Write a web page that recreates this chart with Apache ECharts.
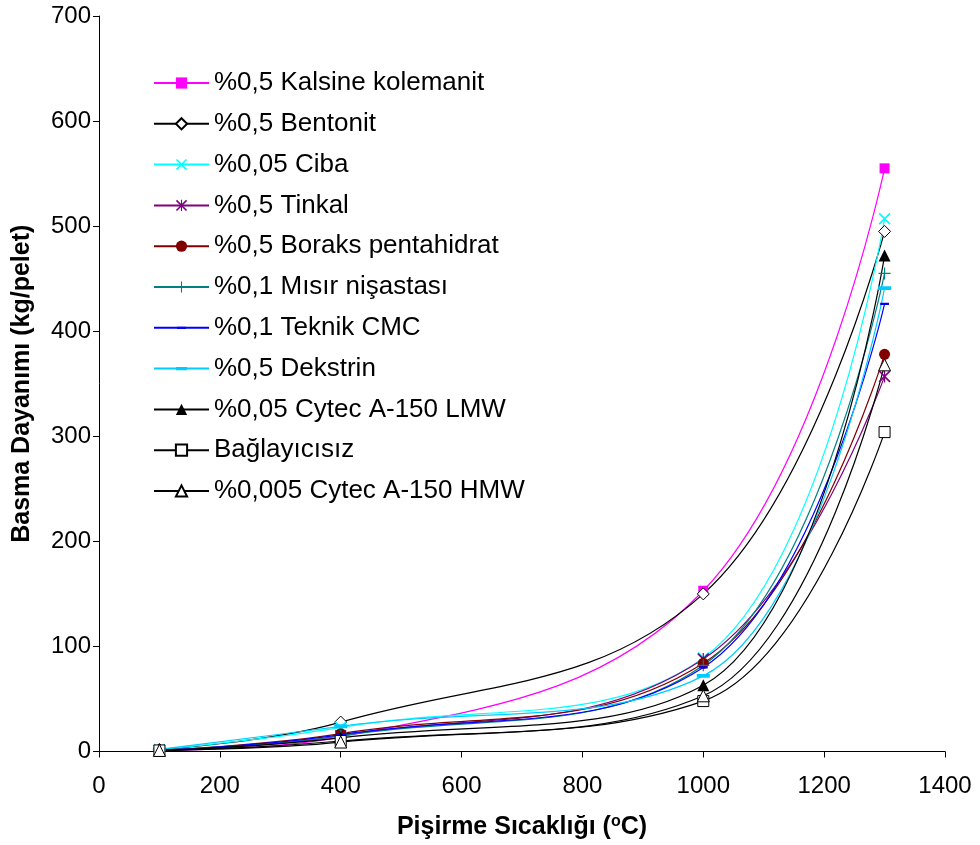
<!DOCTYPE html>
<html>
<head>
<meta charset="utf-8">
<script src="https://cdn.jsdelivr.net/npm/echarts@6/dist/echarts.min.js"></script>
<style>
  html, body { margin: 0; padding: 0; background: #fff; }
  #chart { width: 980px; height: 845px; }
</style>
</head>
<body>
<div id="chart"></div>
<script>
// temperatures (°C)
const temps = [100, 400, 1000, 1300];

// strength values (kg/pelet) per binder
const kalsine = [1, 14, 153, 555];
const bentonit = [2, 28, 150, 495];
const ciba = [2, 23, 89, 507];
const tinkal = [1, 15, 88, 357];
const boraks = [1, 17, 84, 378];
const misir = [2, 15, 82, 455];
const cmc = [1, 16, 80, 426];
const dekstrin = [2, 24, 72, 441];
const lmw = [1, 13, 63, 472];
const baglayicisiz = [1, 10, 48, 304];
const hmw = [1, 9, 53, 368];

const xTicks = [0, 200, 400, 600, 800, 1000, 1200, 1400];
const yTicks = [0, 100, 200, 300, 400, 500, 600, 700];

const FONT = '"Liberation Sans", Arial, sans-serif';

const crossPath = 'path://M0,1L1,0L10,9L9,10ZM9,0L10,1L1,10L0,9Z';
const starPath = 'path://M0,1L1,0L10,9L9,10ZM9,0L10,1L1,10L0,9ZM4.5,0L5.5,0L5.5,10L4.5,10Z';
const plusPath = 'path://M4.5,0L5.5,0L5.5,10L4.5,10ZM0,4.5L10,4.5L10,5.5L0,5.5Z';
// short dashes, padded with tiny corner dots so the box stays square
const thinDash = 'path://M0,0L0.01,0L0.01,0.01ZM1,4L9,4L9,6L1,6ZM9.99,9.99L10,9.99L10,10Z';
const wideDash = 'path://M0,0L0.01,0L0.01,0.01ZM0,3.5L10,3.5L10,6.5L0,6.5ZM9.99,9.99L10,9.99L10,10Z';

function pairs(vals) {
    return temps.map((t, i) => [t, vals[i]]);
}

function makeSeries(name, vals, color, symbol, size, fill) {
    return {
        name: name,
        type: 'line',
        smooth: 0.4,
        data: pairs(vals),
        symbol: symbol,
        symbolSize: size,
        showAllSymbol: true,
        lineStyle: { color: color, width: 1.2 },
        itemStyle: {
            color: fill || color,
            borderColor: color,
            borderWidth: fill ? 1 : 0
        },
        emphasis: { disabled: true }
    };
}

const series = [
    makeSeries('%0,5 Kalsine kolemanit', kalsine, '#FF00FF', 'rect', 10),
    makeSeries('%0,5 Bentonit', bentonit, '#000000', 'diamond', 12, '#ffffff'),
    makeSeries('%0,05 Ciba', ciba, '#00FFFF', crossPath, 12),
    makeSeries('%0,5 Tinkal', tinkal, '#800080', starPath, 12),
    makeSeries('%0,5 Boraks pentahidrat', boraks, '#800000', 'circle', 11),
    makeSeries('%0,1 Mısır nişastası', misir, '#008080', plusPath, 12),
    makeSeries('%0,1 Teknik CMC', cmc, '#0000FF', thinDash, 11),
    makeSeries('%0,5 Dekstrin', dekstrin, '#00CCFF', wideDash, 13),
    makeSeries('%0,05 Cytec A-150 LMW', lmw, '#000000', 'triangle', 12),
    makeSeries('Bağlayıcısız', baglayicisiz, '#000000', 'rect', 11, '#ffffff'),
    makeSeries('%0,005 Cytec A-150 HMW', hmw, '#000000', 'triangle', 12, '#ffffff')
];

const chart = echarts.init(document.getElementById('chart'));
chart.setOption({
    backgroundColor: '#ffffff',
    animation: false,
    textStyle: { fontFamily: FONT },
    grid: { left: 99, right: 35, top: 16, bottom: 93 },
    legend: {
        orient: 'vertical',
        left: 153,
        top: 70,
        padding: 0,
        itemWidth: 55,
        itemHeight: 14,
        itemGap: 14.8,
        textStyle: { fontFamily: FONT, fontSize: 26, color: '#000' },
        data: series.map(s => s.name)
    },
    xAxis: {
        type: 'value',
        min: xTicks[0],
        max: xTicks[xTicks.length - 1],
        interval: 200,
        name: '{t|Pişirme Sıcaklığı (}{sup|o}{t|C)}',
        nameLocation: 'middle',
        nameGap: 62,
        nameTextStyle: {
            rich: {
                t: { fontFamily: FONT, fontSize: 25, fontWeight: 'bold', color: '#000' },
                sup: { fontFamily: FONT, fontSize: 16, fontWeight: 'bold', color: '#000', verticalAlign: 'top', padding: [0, 0, 12, 0] }
            }
        },
        axisLine: { show: true, onZero: false, lineStyle: { color: '#000', width: 1 } },
        axisTick: { show: true, length: 6, lineStyle: { color: '#000' } },
        axisLabel: {
            fontFamily: FONT, fontSize: 24, color: '#000', margin: 23,
            formatter: v => String(v)
        },
        splitLine: { show: false }
    },
    yAxis: {
        type: 'value',
        min: yTicks[0],
        max: yTicks[yTicks.length - 1],
        interval: 100,
        name: 'Basma Dayanımı (kg/pelet)',
        nameLocation: 'middle',
        nameRotate: 90,
        nameGap: 64,
        nameTextStyle: { fontFamily: FONT, fontSize: 25, fontWeight: 'bold', color: '#000', padding: [0, 0, 0, 0] },
        axisLine: { show: true, lineStyle: { color: '#000', width: 1 } },
        axisTick: { show: true, length: 6, lineStyle: { color: '#000' } },
        axisLabel: {
            fontFamily: FONT, fontSize: 24, color: '#000', margin: 8,
            formatter: v => String(v)
        },
        splitLine: { show: false }
    },
    series: series
});
</script>
</body>
</html>
